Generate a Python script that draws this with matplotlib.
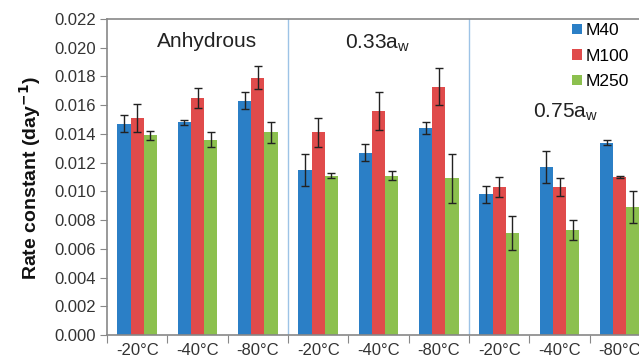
import matplotlib.pyplot as plt
import numpy as np
from matplotlib.patches import Patch

plt.rcParams['font.family'] = ['Liberation Sans', 'DejaVu Sans']

categories = ['-20°C', '-40°C', '-80°C'] * 3
series = ['M40', 'M100', 'M250']
m40 = [0.0147, 0.0148, 0.0163, 0.0115, 0.0127, 0.0144, 0.0098, 0.0117, 0.0134]
m100 = [0.0151, 0.0165, 0.0179, 0.0141, 0.0156, 0.0173, 0.0103, 0.0103, 0.0110]
m250 = [0.0139, 0.0136, 0.0141, 0.0111, 0.0111, 0.0109, 0.0071, 0.0073, 0.0089]
m40_err = [0.0006, 0.0002, 0.0006, 0.0011, 0.0006, 0.0004, 0.0006, 0.0011, 0.0002]
m100_err = [0.0010, 0.0007, 0.0008, 0.0010, 0.0013, 0.0013, 0.0007, 0.0006, 0.0001]
m250_err = [0.0003, 0.0005, 0.0007, 0.0002, 0.0003, 0.0017, 0.0012, 0.0007, 0.0011]
colors = ['#2b7fc6', '#e04b4b', '#8cc04e']

fig = plt.figure(figsize=(6.39, 3.63), dpi=100)
# plot area runs past the right edge of the picture, as in the cropped original
ax = fig.add_axes([107 / 639, 28 / 363, 543 / 639, 316 / 363])

x = np.arange(len(categories)) + 0.5
w = 0.22
for k, (vals, errs) in enumerate([(m40, m40_err), (m100, m100_err), (m250, m250_err)]):
    ax.bar(x + (k - 1) * w, vals, w, color=colors[k], zorder=2)
    ax.errorbar(x + (k - 1) * w, vals, yerr=errs, fmt='none', ecolor='#222222',
                elinewidth=1, capsize=3, capthick=1, zorder=3)

ax.set_xlim(0, 9)
ax.set_ylim(0, 0.022)
ax.set_yticks(np.arange(0, 0.0221, 0.002))
ax.set_yticklabels(['%.3f' % v for v in np.arange(0, 0.0221, 0.002)])
ax.set_xticks(np.arange(0, 10))
ax.set_xticklabels([])
ax.set_xticks(x, minor=True)
ax.set_xticklabels(categories, minor=True)
ax.tick_params(axis='x', which='minor', length=0, labelsize=12, pad=6, colors='#333333')
ax.tick_params(axis='x', which='major', length=6, direction='out', color='#888888')
ax.tick_params(axis='y', length=5, direction='out', color='#888888', labelsize=12,
               labelcolor='#333333', pad=3)
for s in ['left', 'bottom', 'top', 'right']:
    ax.spines[s].set_color('#888888')
    ax.spines[s].set_linewidth(1.2)

for sep in [3, 6]:
    ax.axvline(sep, color='#9dc3e6', lw=1, zorder=1)

ax.text(1.66, 0.0204, 'Anhydrous', fontsize=15, ha='center', va='center', color='#222222')
ax.text(4.48, 0.0203, r'0.33a$_\mathregular{w}$', fontsize=15, ha='center', va='center', color='#222222')
ax.text(7.6, 0.0155, r'0.75a$_\mathregular{w}$', fontsize=15, ha='center', va='center', color='#222222')

handles = [Patch(facecolor=c, edgecolor='none') for c in colors]
fig.legend(handles, series, loc='upper right', bbox_to_anchor=(0.995, 0.955), frameon=False,
           fontsize=12.5, handlelength=0.55, handleheight=0.55, handletextpad=0.2,
           labelspacing=0.6, borderaxespad=0)

fig.text(0.047, 0.51, r'Rate constant (day$^{\mathbf{-1}}$)', rotation=90, ha='center',
         va='center', fontsize=14, fontweight='bold', color='#111111')

fig.savefig('out.png', dpi=100)
